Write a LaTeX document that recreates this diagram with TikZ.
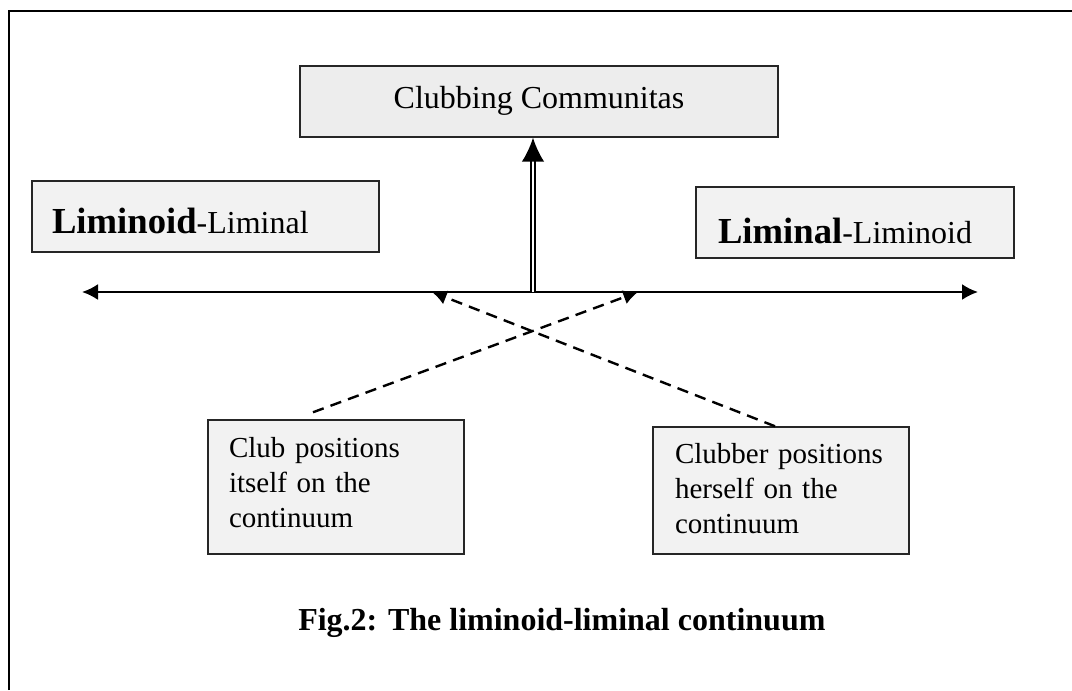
\documentclass[tikz,border=0pt]{standalone}
\usepackage{fontspec}
\setmainfont{Liberation Serif}
\usetikzlibrary{arrows.meta,positioning}

\begin{document}
\begin{tikzpicture}[
  x=0.75pt, y=-0.75pt,
  >=Latex,
  box/.style={rectangle, draw=black!85, line width=1.1pt, fill=black!5, inner ysep=0pt},
  sidebox/.style={box, align=left, font=\fontsize{24pt}{28pt}\selectfont},
  notebox/.style={box, align=left, font=\fontsize{21.75pt}{26.25pt}\selectfont},
  link/.style={dash pattern=on 8.5pt off 5.5pt, line width=1.8pt, -{Latex[length=11pt,width=11pt]}}
]
\useasboundingbox (0,0) rectangle (1072,690);
\draw[line width=1.5pt] (9,690) -- (9,11) -- (1072,11);

\node[box, fill=black!7, minimum width=358.5pt, text height=31.5pt, text depth=21.75pt, font=\fontsize{24pt}{28pt}\selectfont] (comm) at (539,101.5) {Clubbing Communitas};
\node[sidebox, inner xsep=15pt, text width=230.25pt, text height=39pt, text depth=14.25pt] (loid) at (205.5,216.5) {{\fontsize{27.5pt}{30pt}\selectfont\bfseries Liminoid}-Liminal};
\node[sidebox, inner xsep=16.5pt, text width=205.5pt, text height=42pt, text depth=11.25pt] (lim) at (855,222.5) {{\fontsize{27.5pt}{30pt}\selectfont\bfseries Liminal}-Liminoid};
\node[notebox, inner xsep=15.75pt, text width=160.5pt, text height=27.75pt, text depth=72.75pt] (club) at (336,487) {Club positions\\itself on the\\continuum};
\node[notebox, inner xsep=16.5pt, text width=159pt, text height=27pt, text depth=68.25pt] (clubber) at (781,490.5) {Clubber positions\\herself on the\\continuum};
\node[anchor=base west, inner sep=0pt, font=\fontsize{24pt}{28pt}\selectfont\bfseries] (cap) at (298,630) {Fig.2: The liminoid-liminal continuum};

% the continuum
\coordinate (lft) at (82,292);
\coordinate (rgt) at (978,292);
\coordinate (stem) at (533,292);
\coordinate (hitl) at (432,292);
\coordinate (hitr) at (638,292);
\draw[line width=1.6pt, {Latex[length=12pt,width=12pt]}-{Latex[length=12pt,width=12pt]}] (lft) -- (rgt);
\draw[line width=1.4pt, double, double distance=2.2pt, -{Latex[length=18pt,width=17pt]}] (stem) -- (stem |- comm.south);
\draw[link] ([xshift=-17.25pt,yshift=5.25pt]club.north) -- (hitr);
\draw[link] ([xshift=-4.5pt]clubber.north) -- (hitl);
\end{tikzpicture}
\end{document}
